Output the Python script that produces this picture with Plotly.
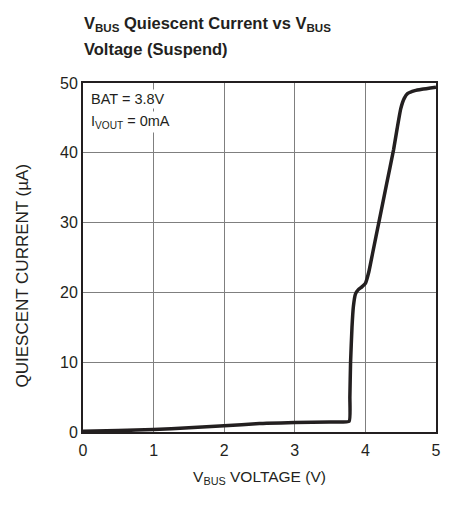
import plotly.graph_objects as go

vbus_v = [0.0, 0.5, 1.0, 1.5, 2.0, 2.5, 2.6, 3.0, 3.5, 3.77, 3.78, 3.79, 3.81, 3.83, 3.86, 3.9, 3.95, 4.0,
          4.05, 4.1, 4.2, 4.3, 4.4, 4.45, 4.5, 4.55, 4.6, 4.7, 4.8, 5.0]
iq_ua = [0.1, 0.2, 0.35, 0.6, 0.9, 1.2, 1.25, 1.35, 1.45, 1.55, 5.0, 10.0, 15.0, 18.0, 19.8, 20.4, 20.8, 21.3,
         23.0, 25.5, 30.5, 35.5, 40.5, 43.5, 46.3, 47.8, 48.5, 48.9, 49.1, 49.4]
x_ticks = [0, 1, 2, 3, 4, 5]
y_ticks = [0, 10, 20, 30, 40, 50]

FONT = "Liberation Sans, Arial, sans-serif"
INK = "#231f20"

fig = go.Figure()
fig.add_trace(go.Scatter(x=vbus_v, y=iq_ua, mode="lines",
                         line=dict(color=INK, width=3.5, shape="spline", smoothing=0.4),
                         showlegend=False, hoverinfo="skip"))

fig.update_layout(
    width=449, height=508,
    margin=dict(l=83, r=13, t=83, b=76),
    paper_bgcolor="white", plot_bgcolor="white",
    font=dict(family=FONT, color=INK, size=16),
    xaxis=dict(range=[0, 5], tickvals=x_ticks, showgrid=True, gridcolor="#7f7f7f", gridwidth=1,
               showline=True, linecolor=INK, linewidth=2, mirror=True, zeroline=False,
               ticks="", tickfont=dict(size=16), ticklabelstandoff=3, automargin=False,
               title=dict(text="V<sub>BUS</sub> VOLTAGE (V)", font=dict(size=15.5), standoff=13)),
    yaxis=dict(range=[0, 50], tickvals=y_ticks, showgrid=True, gridcolor="#7f7f7f", gridwidth=1,
               showline=True, linecolor=INK, linewidth=2, mirror=True, zeroline=False,
               ticks="", tickfont=dict(size=16), ticklabelstandoff=0, automargin=False),
)

# y-axis title
fig.add_annotation(xref="paper", yref="paper", x=0, y=0.5, xshift=-61, yshift=-18,
                   xanchor="center", yanchor="middle", textangle=-90, showarrow=False,
                   text="QUIESCENT CURRENT (µA)", font=dict(size=17, family=FONT, color=INK))

# chart title (two lines)
fig.add_annotation(xref="paper", yref="paper", x=0, y=1.0, xshift=-1, yshift=59,
                   xanchor="left", yanchor="middle", align="left", showarrow=False,
                   text="<b>V<sub>BUS</sub> Quiescent Current vs V<sub>BUS</sub></b>",
                   font=dict(size=16.5, family=FONT, color=INK))
fig.add_annotation(xref="paper", yref="paper", x=0, y=1.0, xshift=-1, yshift=34,
                   xanchor="left", yanchor="middle", align="left", showarrow=False,
                   text="<b>Voltage (Suspend)</b>",
                   font=dict(size=16.5, family=FONT, color=INK))

# condition labels
fig.add_annotation(xref="paper", yref="paper", x=0, y=1.0, xshift=6, yshift=-16,
                   xanchor="left", yanchor="middle", align="left", showarrow=False, bgcolor="white",
                   text="BAT = 3.8V", font=dict(size=14.5, family=FONT, color=INK))
fig.add_annotation(xref="paper", yref="paper", x=0, y=1.0, xshift=6, yshift=-39,
                   xanchor="left", yanchor="middle", align="left", showarrow=False, bgcolor="white",
                   text="I<sub>VOUT</sub> = 0mA", font=dict(size=14.5, family=FONT, color=INK))

# figure code, clipped at the bottom edge as in the reference
fig.add_annotation(xref="paper", yref="paper", x=1.0, y=0, xshift=-3, yshift=-72,
                   xanchor="right", yanchor="top", showarrow=False, text="3563 G09",
                   font=dict(size=9, family=FONT, color=INK))

fig.write_html("out.html", config={"displayModeBar": False},
               post_script="document.body.style.margin='0px';")
